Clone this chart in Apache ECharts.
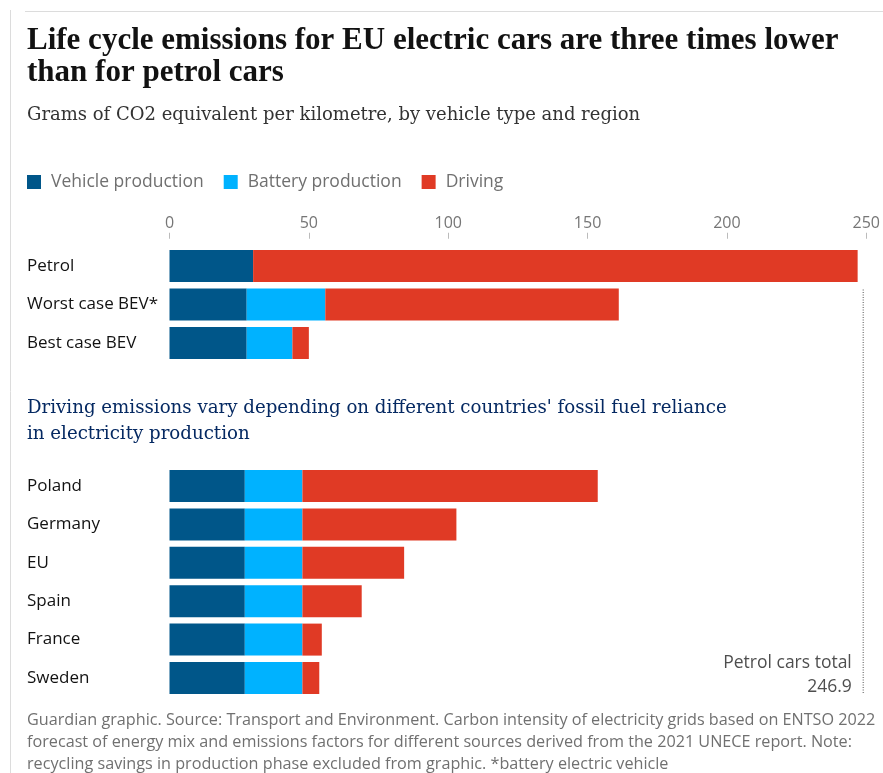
<!DOCTYPE html>
<html>
<head>
<meta charset="utf-8">
<script src="https://cdn.jsdelivr.net/npm/echarts@6/dist/echarts.min.js"></script>
<style>
html,body{margin:0;padding:0;background:#fff;overflow:hidden;}
#chart{width:883px;height:773px;}
</style>
</head>
<body>
<div id="chart"></div>
<script>
// ---- data ----
const topCategories = ['Petrol', 'Worst case BEV*', 'Best case BEV'];
const vehicleTop = [30.0, 27.7, 27.7];
const batteryTop = [0, 28.2, 16.4];
const drivingTop = [216.9, 105.3, 5.9];

const countryCategories = ['Poland', 'Germany', 'EU', 'Spain', 'France', 'Sweden'];
const vehicleCountry = [26.8, 26.8, 26.8, 26.8, 26.8, 26.8];
const batteryCountry = [20.5, 20.5, 20.5, 20.5, 20.5, 20.5];
const drivingCountry = [105.1, 54.8, 36.2, 21.1, 6.9, 6.0];

const xTicks = [0, 50, 100, 150, 200, 250];
const petrolTotal = 246.9;

const seriesNames = ['Vehicle production', 'Battery production', 'Driving'];
const colors = ['#005689', '#00b2ff', '#e03a25'];

const SANS = '"Open Sans", "Noto Sans", sans-serif';
const SERIF = '"DejaVu Serif", "Liberation Serif", serif';
const HEAD = '"Liberation Serif", serif';

const chart = echarts.init(document.getElementById('chart'), null, {renderer: 'canvas'});

function barSeries(name, data, idx, color) {
  return {
    name: name, type: 'bar', stack: 'g' + idx, data: data,
    xAxisIndex: idx, yAxisIndex: idx, barWidth: 32,
    itemStyle: {color: color}, silent: true
  };
}

const GRID_L = 169.5, GRID_R = 11;

const option = {
  animation: false,
  backgroundColor: '#fff',
  graphic: [
    {type: 'line', shape: {x1: 10.5, y1: 10, x2: 10.5, y2: 773}, style: {stroke: '#dcdcdc', lineWidth: 1}, silent: true},
    {type: 'line', shape: {x1: 25, y1: 11.5, x2: 883, y2: 11.5}, style: {stroke: '#dcdcdc', lineWidth: 1}, silent: true}
  ],
  title: [
    {text: 'Life cycle emissions for EU electric cars are three times lower\nthan for petrol cars',
     left: 27, top: 25, padding: 0,
     textStyle: {fontFamily: HEAD, fontWeight: 'bold', fontSize: 31, lineHeight: 32, color: '#121212'}},
    {text: 'Grams of CO2 equivalent per kilometre, by vehicle type and region',
     left: 27, top: 103, padding: 0,
     textStyle: {fontFamily: SERIF, fontWeight: 'normal', fontSize: 18, lineHeight: 24, color: '#333'}},
    {text: "Driving emissions vary depending on different countries' fossil fuel reliance\nin electricity production",
     left: 27, top: 395, padding: 0,
     textStyle: {fontFamily: SERIF, fontWeight: 'normal', fontSize: 18.2, lineHeight: 26, color: '#052962'}},
    {text: 'Guardian graphic. Source: Transport and Environment. Carbon intensity of electricity grids based on ENTSO 2022\nforecast of energy mix and emissions factors for different sources derived from the 2021 UNECE report. Note:\nrecycling savings in production phase excluded from graphic. *battery electric vehicle',
     left: 27, top: 709, padding: 0,
     textStyle: {fontFamily: SANS, fontWeight: 'normal', fontSize: 16.2, lineHeight: 22, color: '#707070'}}
  ],
  legend: {
    data: seriesNames, left: 27, top: 173, padding: 0, itemWidth: 14, itemHeight: 14, itemGap: 20,
    icon: 'rect', selectedMode: false,
    textStyle: {fontFamily: SANS, fontSize: 17.5, color: '#707070', padding: [0, 0, 0, 5]}
  },
  grid: [
    {left: GRID_L, right: GRID_R, top: 246.75, height: 115.5},
    {left: GRID_L, right: GRID_R, top: 466.8, height: 230.4},
    {left: GRID_L, right: GRID_R, top: 288, height: 405}
  ],
  xAxis: [
    {gridIndex: 0, type: 'value', min: 0, max: 250, interval: 50, position: 'top', offset: 8,
     axisLine: {show: false}, splitLine: {show: false},
     axisTick: {show: true, length: 6, lineStyle: {color: '#bbb'}},
     axisLabel: {fontFamily: SANS, fontSize: 16, color: '#767676', margin: 7,
                 formatter: v => xTicks.includes(v) ? String(v) : ''}},
    {gridIndex: 1, type: 'value', min: 0, max: 250, show: false},
    {gridIndex: 2, type: 'value', min: 0, max: 250, show: false}
  ],
  yAxis: [
    {gridIndex: 0, type: 'category', data: topCategories, inverse: true,
     axisLine: {show: false}, axisTick: {show: false},
     axisLabel: {align: 'left', margin: 142.5, fontFamily: SANS, fontSize: 17, color: '#121212'}},
    {gridIndex: 1, type: 'category', data: countryCategories, inverse: true,
     axisLine: {show: false}, axisTick: {show: false},
     axisLabel: {align: 'left', margin: 142.5, fontFamily: SANS, fontSize: 17, color: '#121212'}},
    {gridIndex: 2, type: 'value', min: 0, max: 1, show: false}
  ],
  series: [
    barSeries(seriesNames[0], vehicleTop, 0, colors[0]),
    barSeries(seriesNames[1], batteryTop, 0, colors[1]),
    barSeries(seriesNames[2], drivingTop, 0, colors[2]),
    barSeries(seriesNames[0], vehicleCountry, 1, colors[0]),
    barSeries(seriesNames[1], batteryCountry, 1, colors[1]),
    barSeries(seriesNames[2], drivingCountry, 1, colors[2]),
    {
      name: 'petrolTotal', type: 'line', xAxisIndex: 2, yAxisIndex: 2,
      symbol: 'none', silent: true,
      lineStyle: {color: '#888', width: 1.5, type: [1, 1.5]},
      data: [[petrolTotal, 0], [petrolTotal, 1]]
    },
    {
      name: 'petrolLabel', type: 'scatter', xAxisIndex: 2, yAxisIndex: 2,
      symbol: 'rect', symbolSize: 1, silent: true,
      itemStyle: {color: 'rgba(0,0,0,0)'},
      label: {show: true, position: 'left', distance: 11, offset: [0, -18],
              formatter: 'Petrol cars total\n' + petrolTotal.toFixed(1),
              fontFamily: SANS, fontSize: 17.5, lineHeight: 24, color: '#222', align: 'right'},
      data: [[petrolTotal, 0]]
    }
  ]
};
chart.setOption(option);
</script>
</body>
</html>
